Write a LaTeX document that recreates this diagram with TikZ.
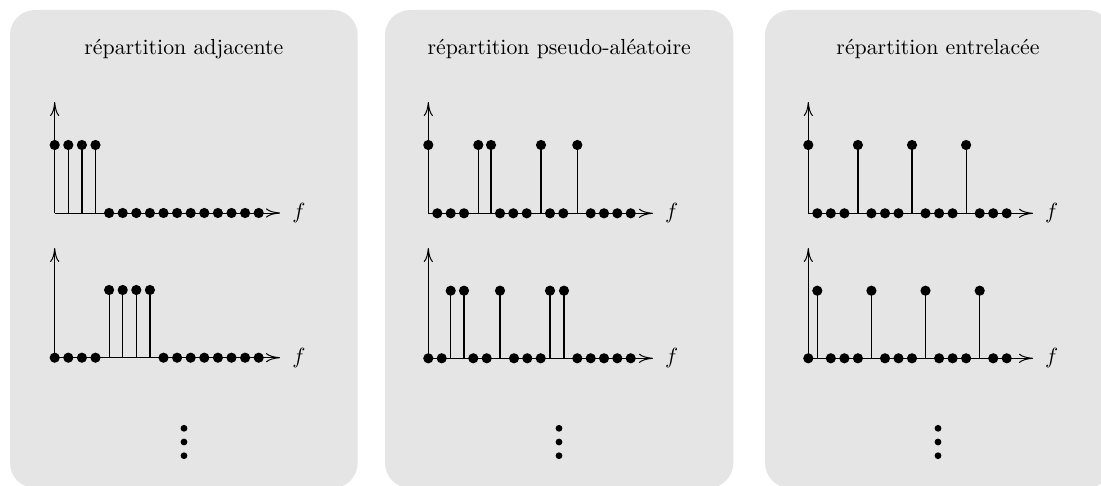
\documentclass[tikz,border=0pt]{standalone}
\usetikzlibrary{arrows.meta}
\tikzset{
  panel/.style={fill=black!10, draw=none, rounded corners=12.5pt},
  axisline/.style={line width=0.5pt, -{To[length=7pt,width=4.6pt]}},
  stemline/.style={line width=0.6pt},
  paneltitle/.style={anchor=base, font=\fontsize{10.9}{13}\selectfont, inner sep=0pt},
  flabel/.style={font=\fontsize{11}{13}\selectfont, inner sep=0pt},
  vdot/.style={fill=black},
}
\newcommand\zdots[2]{\foreach \xx in {#2} {\fill (\xx,#1) circle[radius=2.55pt];}}
\newcommand\hstems[3]{\foreach \xx in {#3} {\draw[stemline] (\xx,#1) -- (\xx,#2); \fill (\xx,#2) circle[radius=2.55pt];}}
\begin{document}
\begin{tikzpicture}[x=0.5pt,y=-0.5pt]
\useasboundingbox (0,0) rectangle (1101,486);
\clip (0,0) rectangle (1101,486);
% panels
\path[panel] (10,10) rectangle (357.7,488);
\path[panel] (385,10) rectangle (733.3,488);
\path[panel] (765,10) rectangle (1112,488);
% titles
\node[paneltitle] (t1) at (183.8,55) {répartition adjacente};
\node[paneltitle] (t2) at (559.2,55) {répartition pseudo-aléatoire};
\node[paneltitle] (t3) at (938,55) {répartition entrelacée};

% ===== panel 1 =====
\coordinate (o1a) at (54.7,213);
\coordinate (o1b) at (54.7,357.7);
\draw[axisline] (o1a) -- (54.7,102);
\draw[axisline] (o1a) -- (280,213);
\node[flabel] (f1a) at (299,213) {$f$};
\hstems{213}{145}{54.7,68.3,81.9,95.5}
\zdots{213}{109.1,122.7,136.3,149.9,163.5,177.1,190.7,204.3,217.9,231.5,245.1,258.7}
\draw[axisline] (o1b) -- (54.7,248);
\draw[axisline] (o1b) -- (280,357.7);
\node[flabel] (f1b) at (299,357.7) {$f$};
\hstems{357.7}{290}{109.1,122.7,136.3,149.9}
\zdots{357.7}{54.7,68.3,81.9,95.5,163.5,177.1,190.7,204.3,217.9,231.5,245.1,258.7}
\fill[vdot] (184,428.3) circle[radius=1.7pt];
\fill[vdot] (184,442) circle[radius=1.7pt];
\fill[vdot] (184,455.7) circle[radius=1.7pt];

% ===== panel 2 =====
\coordinate (o2a) at (428.3,213.3);
\coordinate (o2b) at (428.3,358.3);
\draw[axisline] (o2a) -- (428.3,102);
\draw[axisline] (o2a) -- (653,213.3);
\node[flabel] (f2a) at (671.7,213.3) {$f$};
\hstems{213.3}{145}{428.3,478.3,491,541,577.3}
\zdots{213.3}{437.3,450.7,464,500,513.3,526.7,550,563.3,590.7,604,617.3,630.7}
\draw[axisline] (o2b) -- (428.3,248);
\draw[axisline] (o2b) -- (653,358.3);
\node[flabel] (f2b) at (671.7,358.3) {$f$};
\hstems{358.3}{290.7}{450.7,464,500,550,564}
\zdots{358.3}{428.3,441.7,473.3,486.7,514,527.3,540.7,577.3,590.7,604,617.3,630.7}
\fill[vdot] (559,428.3) circle[radius=1.7pt];
\fill[vdot] (559,442) circle[radius=1.7pt];
\fill[vdot] (559,455.7) circle[radius=1.7pt];

% ===== panel 3 =====
\coordinate (o3a) at (808.3,213.3);
\coordinate (o3b) at (808.3,358.3);
\draw[axisline] (o3a) -- (808.3,102);
\draw[axisline] (o3a) -- (1033,213.3);
\node[flabel] (f3a) at (1051.7,213.3) {$f$};
\hstems{213.3}{145}{808.3,857.9,912,966.1}
\zdots{213.3}{817.3,830.8,844.4,871.4,885,898.5,925.5,939.1,952.6,979.7,993.2,1006.7}
\draw[axisline] (o3b) -- (808.3,248);
\draw[axisline] (o3b) -- (1033,358.3);
\node[flabel] (f3b) at (1051.7,358.3) {$f$};
\hstems{358.3}{290.7}{817.3,871.4,925.5,979.7}
\zdots{358.3}{808.3,830.8,844.4,857.9,885,898.5,912,939.1,952.6,966.1,993.2,1006.7}
\fill[vdot] (938,428.3) circle[radius=1.7pt];
\fill[vdot] (938,442) circle[radius=1.7pt];
\fill[vdot] (938,455.7) circle[radius=1.7pt];
\end{tikzpicture}
\end{document}
